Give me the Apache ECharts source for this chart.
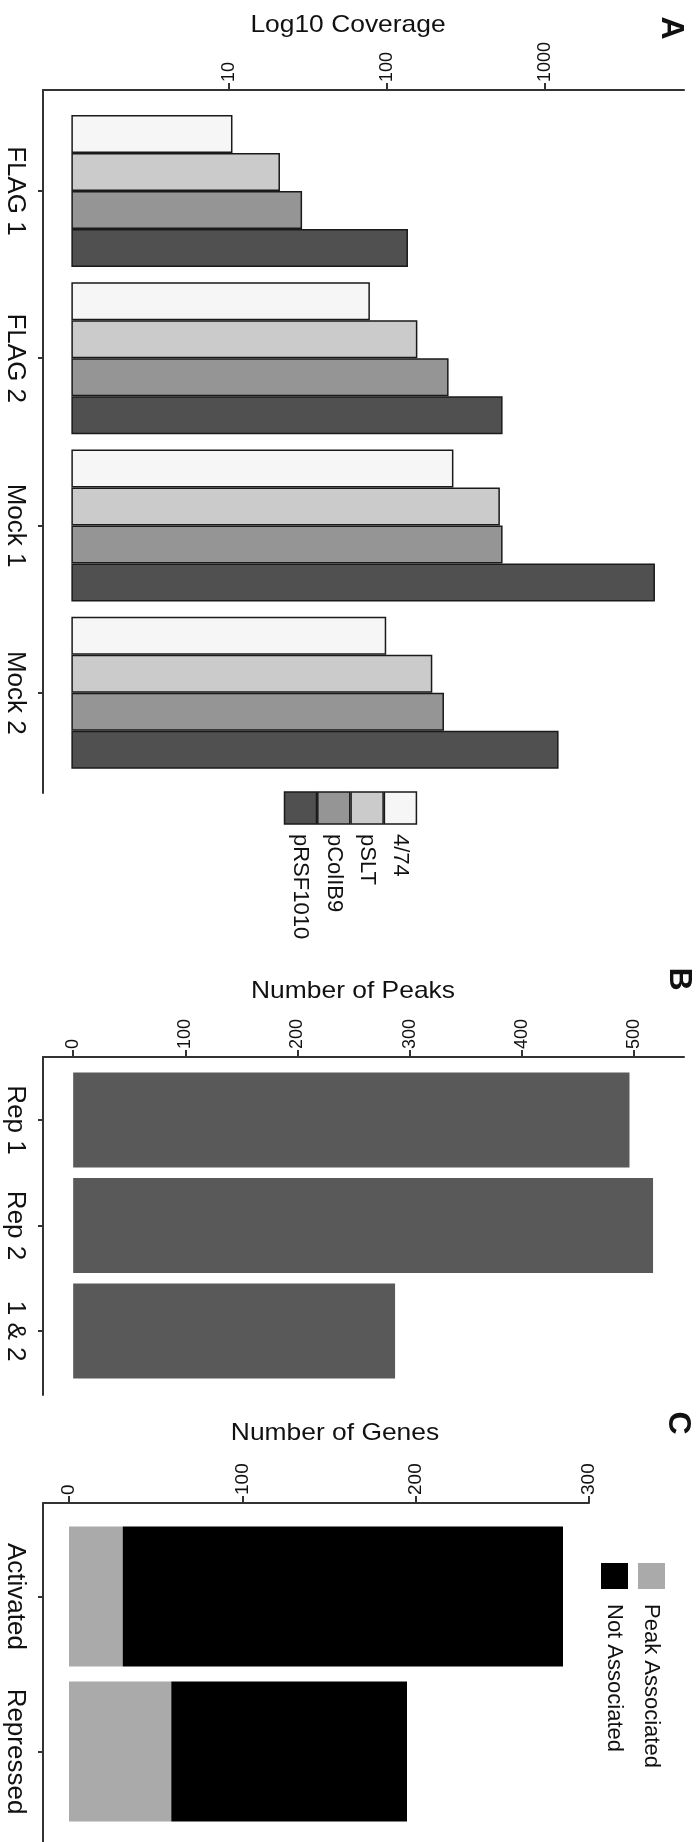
<!DOCTYPE html>
<html>
<head>
<meta charset="utf-8">
<script src="https://cdn.jsdelivr.net/npm/echarts@6/dist/echarts.min.js"></script>
<style>
html, body { margin: 0; padding: 0; background: #fff; }
#chart { width: 696px; height: 1842px; }
</style>
</head>
<body>
<div id="chart"></div>
<script>
// panel A - coverage per plasmid (log scale)
var coverageCats = ['FLAG 1', 'FLAG 2', 'Mock 1', 'Mock 2'];
var plasmids = ['4/74', 'pSLT', 'pColIB9', 'pRSF1010'];
var cov474 = [10.5, 78, 264, 99];
var covSLT = [21, 156, 520, 194];
var covColIB9 = [29, 246, 541, 230];
var covRSF1010 = [136, 541, 5000, 1225];
var coverageTicks = [10, 100, 1000];

// panel B - number of peaks
var peakCats = ['Rep 1', 'Rep 2', '1 & 2'];
var peakCounts = [496, 517, 287];
var peakTicks = [0, 100, 200, 300, 400, 500];

// panel C - number of genes
var geneCats = ['Activated', 'Repressed'];
var genePeakAssoc = [31, 59];
var geneNotAssoc = [254, 136];
var geneTicks = [0, 100, 200, 300];

var plasmidColors = ['#f6f6f6', '#cbcbcb', '#959595', '#505050'];
var geneColors = ['#aaaaaa', '#000000'];
var geneNames = ['Peak Associated', 'Not Associated'];

var chart = echarts.init(document.getElementById('chart'), null, { renderer: 'canvas' });

var axisLineStyle = { color: '#333', width: 2 };
var font = 'Liberation Sans, Arial, sans-serif';

// each panel = a frame grid (axis lines, value ticks) + a bar grid (bands)
var panels = [
    { type: 'log', min: 0.661, max: 7640, ticks: coverageTicks, tickSize: 18, cats: coverageCats,
      frame: { left: 43, right: 12, top: 90, height: 703 },
      bars: { left: 43, right: 12, top: 107.3, height: 669.2 } },
    { type: 'value', min: -26.9, max: 544.6, ticks: peakTicks, tickSize: 18, cats: peakCats,
      frame: { left: 43, right: 12, top: 1057, height: 338 },
      bars: { left: 43, right: 12, top: 1067.3, height: 316.5 } },
    { type: 'value', min: -15, max: 300, ticks: geneTicks, tickSize: 19, cats: geneCats,
      frame: { left: 43, right: 107, top: 1503, height: 341 },
      bars: { left: 43, right: 107, top: 1519, height: 310 } }
];

var grids = [], xAxes = [], yAxes = [];
panels.forEach(function (p, k) {
    grids.push(p.frame, p.bars);
    xAxes.push({
        type: p.type, gridIndex: 2 * k, position: 'top', min: p.min, max: p.max,
        axisLine: { show: true, onZero: false, lineStyle: axisLineStyle },
        axisTick: { show: true, customValues: p.ticks, length: 7, lineStyle: axisLineStyle },
        axisLabel: {
            customValues: p.ticks, rotate: -90, margin: 8, fontSize: p.tickSize, color: '#111',
            formatter: function (v) { return String(v); }
        },
        splitLine: { show: false }
    }, {
        type: p.type, gridIndex: 2 * k + 1, position: 'top', min: p.min, max: p.max, show: false
    });
    yAxes.push({
        type: 'value', gridIndex: 2 * k, min: 0, max: 1,
        axisLine: { show: true, onZero: false, lineStyle: axisLineStyle },
        axisTick: { show: false }, axisLabel: { show: false }, splitLine: { show: false }
    }, {
        type: 'category', gridIndex: 2 * k + 1, inverse: true, data: p.cats,
        axisLine: { show: false, onZero: false },
        axisTick: { show: true, alignWithLabel: true, length: 5, lineStyle: axisLineStyle },
        axisLabel: { interval: 0, rotate: -90, margin: 15, fontSize: 26, color: '#111' },
        splitLine: { show: false }
    });
});

var coverageSeries = [cov474, covSLT, covColIB9, covRSF1010].map(function (vals, i) {
    return {
        name: plasmids[i], type: 'bar', xAxisIndex: 1, yAxisIndex: 1,
        barWidth: 38, barGap: '0%',
        itemStyle: { color: plasmidColors[i], borderColor: '#1a1a1a', borderWidth: 1.5 },
        data: vals
    };
});

var peakSeries = {
    name: 'Peaks', type: 'bar', xAxisIndex: 3, yAxisIndex: 3,
    barWidth: 95,
    itemStyle: { color: '#595959' },
    data: peakCounts
};

var geneSeries = [genePeakAssoc, geneNotAssoc].map(function (vals, i) {
    return {
        name: geneNames[i], type: 'bar', stack: 'genes', xAxisIndex: 5, yAxisIndex: 5,
        barWidth: 140,
        itemStyle: { color: geneColors[i] },
        data: vals
    };
});

// legends and titles (rotated like the figure)
var graphics = [];
function vText(text, x, y, size, bold, align) {
    graphics.push({
        type: 'text', x: x, y: y, rotation: -Math.PI / 2,
        style: {
            text: text, fontSize: size, fontWeight: bold ? 'bold' : 'normal',
            fontFamily: font, fill: '#111', align: align || 'left', verticalAlign: 'middle'
        }
    });
}
function hTitle(text, x, y) {
    graphics.push({
        type: 'text', x: x, y: y, scaleX: 1.1,
        style: { text: text, fontSize: 24, fontFamily: font, fill: '#111', align: 'center', verticalAlign: 'middle' }
    });
}

hTitle('Log10 Coverage', 348, 25);
hTitle('Number of Peaks', 353, 991);
hTitle('Number of Genes', 335, 1433);
vText('A', 671, 28, 32, true, 'center');
vText('B', 679, 979, 32, true, 'center');
vText('C', 678, 1423, 32, true, 'center');

// legend A: darkest on the left
plasmids.slice().reverse().forEach(function (name, k) {
    var i = plasmids.length - 1 - k;
    var cx = 300.5 + k * 33.3;
    graphics.push({
        type: 'rect',
        shape: { x: cx - 16, y: 792, width: 32, height: 32 },
        style: { fill: plasmidColors[i], stroke: '#1a1a1a', lineWidth: 1.5 }
    });
    vText(name, cx, 834, 22, false, 'left');
});

// legend C
geneNames.slice().reverse().forEach(function (name, k) {
    var i = geneNames.length - 1 - k;
    var cx = 614.5 + k * 37;
    graphics.push({
        type: 'rect',
        shape: { x: cx - 13.5, y: 1563, width: 27, height: 26 },
        style: { fill: geneColors[i] }
    });
    vText(name, cx, 1604, 22, false, 'left');
});

var option = {
    animation: false,
    backgroundColor: '#ffffff',
    textStyle: { fontFamily: font },
    grid: grids,
    xAxis: xAxes,
    yAxis: yAxes,
    series: coverageSeries.concat([peakSeries]).concat(geneSeries),
    graphic: graphics
};

chart.setOption(option);
</script>
</body>
</html>
